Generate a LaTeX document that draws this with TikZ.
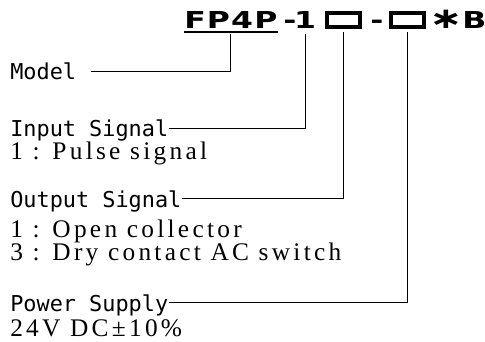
\documentclass[tikz,border=0pt]{standalone}
\usepackage{fontspec}
\newfontfamily\labelfont{DejaVu Sans Mono}
\newfontfamily\descfont[LetterSpace=13]{Liberation Serif}
\newfontfamily\codefont[FakeStretch=1.35,LetterSpace=5]{DejaVu Sans}
\tikzset{
  lbl/.style={anchor=base west,inner sep=0pt,text depth=0pt,font=\labelfont\fontsize{16.4}{18}\selectfont},
  desc/.style={anchor=base west,inner sep=0pt,font=\descfont\fontsize{19}{21}\selectfont},
  code/.style={anchor=base,inner sep=0pt,outer ysep=3.75pt,font=\codefont\bfseries\fontsize{17.5}{19}\selectfont},
  slot/.style={draw,line width=3pt,minimum width=25pt,minimum height=10.5pt,inner sep=0pt,outer ysep=3.75pt},
  conn/.style={line width=0.6pt}
}
\begin{document}
\begin{tikzpicture}[x=0.75pt,y=-0.75pt]
  \useasboundingbox (0,0) rectangle (485,342);
  \node[code,anchor=base west] (fp) at (184,29) {FP4P};
  \node[code] (dsha) at (290,29) {-};
  \node[code] (one) at (305,29) {1};
  \node[slot] (bxa) at (343.5,20.5) {};
  \node[code] (dshb) at (377,29) {-};
  \node[slot] (bxb) at (407.5,20.5) {};
  \node[code,anchor=base west] (tail) at (429,29) {{\fontsize{22}{22}\selectfont ∗}B};
  \draw[line width=1.5pt] ([yshift=-2.25pt]fp.base west) -- ([yshift=-2.25pt]fp.base east);

  \node[lbl] (model) at (10,80) {Model};
  \node[lbl] (insig) at (10,137) {Input Signal};
  \node[desc] (ina) at (10,160) {1 : Pulse signal};
  \node[lbl] (outsig) at (10,207) {Output Signal};
  \node[desc] (outa) at (10,237) {1 : Open collector};
  \node[desc] (outb) at (10,260) {3 : Dry contact AC switch};
  \node[lbl] (power) at (10,311) {Power Supply};
  \node[desc] (pwra) at (10,336) {24V DC±10\%};

  \draw[conn] ([xshift=11pt]model.east) -| (fp.south);
  \draw[conn] (insig.east) -| (one.south);
  \draw[conn] (outsig.east) -| (bxa.south);
  \draw[conn] (power.east) -| (bxb.south);
\end{tikzpicture}
\end{document}
